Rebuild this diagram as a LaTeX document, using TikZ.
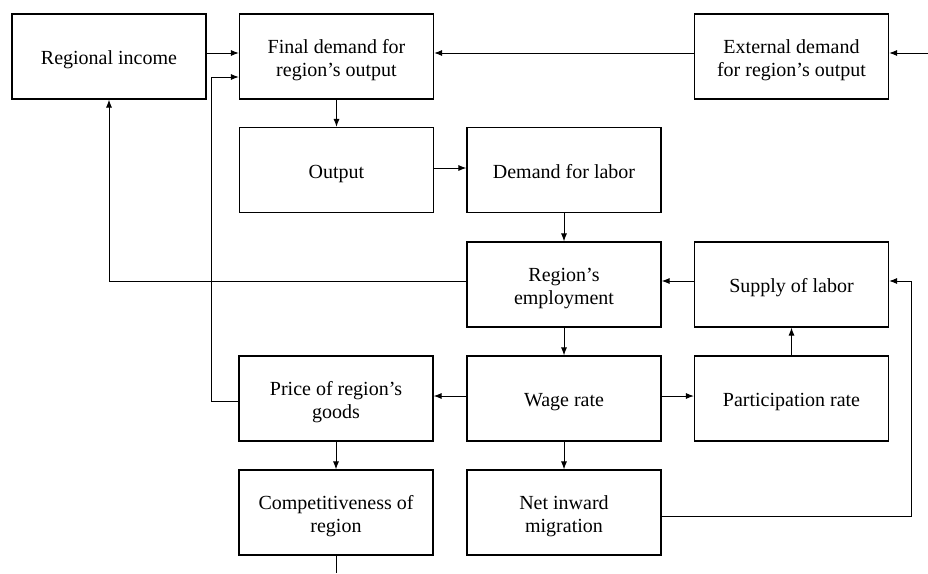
\documentclass[tikz,border=0pt]{standalone}
\usepackage{fontspec}
\setmainfont{Liberation Serif}
\usepackage{tikz}
\usetikzlibrary{arrows.meta}
\usetikzlibrary{positioning}
\tikzset{
    block/.style={draw=black, line width=1.1pt, minimum width=194pt, minimum height=85pt,
        inner sep=0pt, align=center, font=\fontsize{20}{23}\selectfont,
        text height=16pt, text depth=0pt},
    twoline/.style={block, text height=39pt},
    flow/.style={draw=black, line width=1pt, -{Latex[length=8pt,width=6pt]}},
    link/.style={draw=black, line width=1pt},
}

\begin{document}
\begin{tikzpicture}[x=1pt, y=-1pt]
	\useasboundingbox (0,0) rectangle (928,573);
	% top row
	\node[block] (ri) at (109,56.5) {Regional income};
	\node[twoline] (fd) at (336.5,56.5) {Final demand for\\region’s output};
	\node[twoline] (ext) at (791.5,56.5) {External demand\\for region’s output};
	% labour market
	\node[block] (out) at (336.5,170) {Output};
	\node[block] (dl) at (564,170) {Demand for labor};
	\node[twoline] (emp) at (564,284.5) {Region’s\\employment};
	\node[block] (sup) at (791.5,284.5) {Supply of labor};
	\node[twoline] (price) at (336,398.5) {Price of region’s\\goods};
	\node[block] (wage) at (564,398.5) {Wage rate};
	\node[block] (part) at (791.5,398.5) {Participation rate};
	\node[twoline] (comp) at (336,512.5) {Competitiveness of\\region};
	\node[twoline] (net) at (564,512.5) {Net inward\\migration};

	\coordinate (extin) at (928,53);
	\coordinate (pbend) at (211,77);
	\coordinate (nbend) at (911,516);
	\coordinate (compout) at (336,573);

	\draw[flow] ([yshift=3.5pt]ri.east) -- ([yshift=3.5pt]fd.west);
	\draw[flow] ([yshift=3.5pt]ext.west) -- ([yshift=3.5pt]fd.east);
	\draw[flow] (extin) -- (ext.east |- extin);
	\draw[flow] (fd.south) -- (out.north);
	\draw[flow] ([yshift=2pt]out.east) -- ([yshift=2pt]dl.west);
	\draw[flow] (dl.south) -- (emp.north);
	\draw[flow] ([yshift=3.5pt]sup.west) -- ([yshift=3.5pt]emp.east);
	\draw[flow] ([yshift=3.5pt]emp.west) -| (ri.south);
	\draw[flow] (emp.south) -- (wage.north);
	\draw[flow] ([yshift=2.5pt]wage.west) -- ([yshift=2.5pt]price.east);
	\draw[flow] ([yshift=2.5pt]wage.east) -- ([yshift=2.5pt]part.west);
	\draw[flow] (part.north) -- (sup.south);
	\draw[flow] ([yshift=-2.5pt]price.west) -| (pbend) -- (fd.west |- pbend);
	\draw[flow] (price.south) -- (comp.north);
	\draw[flow] (wage.south) -- (net.north);
	\draw[flow] ([yshift=-3.5pt]net.east) -- (nbend) |- ([yshift=3.5pt]sup.east);
	\draw[link] (comp.south) -- (compout);
\end{tikzpicture}
\end{document}
